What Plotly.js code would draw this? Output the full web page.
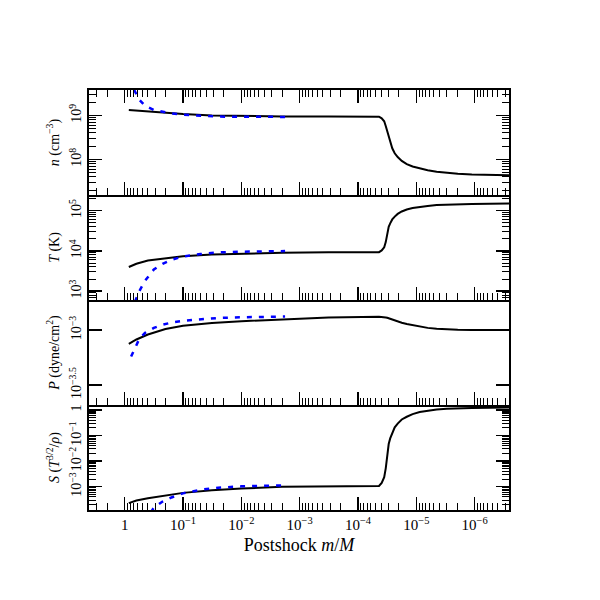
<!DOCTYPE html>
<html><head><meta charset="utf-8">
<script src="https://cdn.plot.ly/plotly-3.0.1.min.js"></script>
<style>html,body{margin:0;padding:0;background:#fff}#chart{width:600px;height:600px}</style>
</head><body><div id="chart"></div>
<script>
// ---- data ----
const massBlack = [0.85, 0.63, 0.40, 0.20, 0.10, 0.032, 0.010, 0.0020, 3.2e-4,
  4.37e-5, 3.93e-5, 3.56e-5, 3.35e-5, 3.16e-5, 2.98e-5, 2.81e-5, 2.59e-5, 2.35e-5, 2.09e-5, 1.78e-5,
  1.46e-5, 1.16e-5, 8.77e-6, 6.40e-6, 4.49e-6, 3.02e-6, 1.95e-6, 1.12e-6, 5.53e-7, 2.51e-7];
const nBlack = [1.334e9, 1.288e9, 1.219e9, 1.135e9, 1.076e9, 1.0e9, 9.66e8, 9.51e8, 9.44e8,
  9.40e8, 8.61e8, 7.38e8, 5.77e8, 4.38e8, 3.03e8, 2.30e8, 1.79e8, 1.38e8, 1.13e8, 9.27e7,
  7.83e7, 6.92e7, 6.22e7, 5.66e7, 5.25e7, 4.93e7, 4.71e7, 4.53e7, 4.42e7, 4.37e7];
const TBlack = [3980, 4790, 5750, 6610, 7330, 8130, 8610, 9020, 9230,
  9330, 10280, 12330, 16560, 27670, 39720, 48310, 60670, 71290, 83180, 95500,
  106900, 116100, 123900, 130900, 138000, 141900, 145200, 147600, 149600, 151400];
const PBlack = [7.50e-4, 8.22e-4, 9.12e-4, 1.023e-3, 1.096e-3, 1.161e-3, 1.202e-3, 1.245e-3, 1.303e-3,
  1.318e-3, 1.318e-3, 1.315e-3, 1.303e-3, 1.294e-3, 1.279e-3, 1.262e-3, 1.245e-3, 1.222e-3, 1.197e-3, 1.164e-3,
  1.135e-3, 1.107e-3, 1.072e-3, 1.047e-3, 1.028e-3, 1.014e-3, 1.007e-3, 1.002e-3, 1.000e-3, 1.000e-3];
const SBlack = [2.29e-4, 2.88e-4, 3.55e-4, 4.62e-4, 5.75e-4, 7.24e-4, 8.51e-4, 9.89e-4, 1.047e-3,
  1.076e-3, 1.413e-3, 2.344e-3, 5.248e-3, 0.02089, 0.04677, 0.07762, 0.1318, 0.2089, 0.2951, 0.4266,
  0.5433, 0.6918, 0.8279, 0.9397, 1.035, 1.107, 1.161, 1.202, 1.225, 1.245];

const massBlue = [0.776, 0.676, 0.562, 0.447, 0.316, 0.224, 0.158, 0.100, 0.0501, 0.0251, 0.0100, 0.00398, 0.00178];
const nBlue = [7.08e9, 3.63e9, 2.29e9, 1.66e9, 1.33e9, 1.20e9, 1.11e9, 1.04e9, 9.77e8, 9.44e8, 9.33e8, 9.29e8, 9.29e8];
const TBlue = [282, 525, 1000, 1820, 3467, 4786, 6026, 7244, 8375, 9162, 9550, 9772, 9886];
const PBlue = [5.75e-4, 6.76e-4, 8.32e-4, 9.44e-4, 1.047e-3, 1.117e-3, 1.169e-3, 1.216e-3, 1.259e-3, 1.288e-3, 1.306e-3, 1.318e-3, 1.327e-3];
const SBlue = [6.3e-7, 3.3e-6, 1.41e-5, 4.68e-5, 1.51e-4, 2.63e-4, 3.80e-4, 5.50e-4, 7.59e-4, 9.12e-4, 1.035e-3, 1.091e-3, 1.117e-3];

const xTickVals = [1, 1e-1, 1e-2, 1e-3, 1e-4, 1e-5, 1e-6];
const xTickText = ['1', '10<sup>−1</sup>', '10<sup>−2</sup>', '10<sup>−3</sup>', '10<sup>−4</sup>', '10<sup>−5</sup>', '10<sup>−6</sup>'];
const nTickVals = [1e8, 1e9];
const nTickText = ['10<sup>8</sup>', '10<sup>9</sup>'];
const TTickVals = [1e3, 1e4, 1e5];
const TTickText = ['10<sup>3</sup>', '10<sup>4</sup>', '10<sup>5</sup>'];
const PTickVals = [Math.pow(10, -3.5), 1e-3];
const PTickText = ['10<sup>−3.5</sup>', '10<sup>−3</sup>'];
const STickVals = [1e-3, 1e-2, 1e-1, 1];
const STickText = ['10<sup>−3</sup>', '10<sup>−2</sup>', '10<sup>−1</sup>', '1'];

const xTitle = 'Postshock <i>m</i>/<i>M</i>';
const nTitle = '<i>n</i> (cm<sup>−3</sup>)';
const TTitle = '<i>T</i> (K)';
const PTitle = '<i>P</i> (dyne/cm<sup>2</sup>)';
const STitle = '<i>S</i> (<i>T</i><sup>3/2</sup>/<i>ρ</i>)';

// ---- styling ----
const FONT = 'Liberation Serif, DejaVu Serif, serif';
function minorTicks(lo, hi) {
  const v = [];
  for (let k = lo; k <= hi; k++) for (let d = 2; d <= 9; d++) v.push(d * Math.pow(10, k));
  return v;
}
const xRange = [0.612, -6.588];

function xAxis(anchor, showLabels, mirror) {
  return {
    type: 'log', range: xRange, autorange: false, anchor: anchor, domain: [0, 1],
    showline: true, linewidth: 2, linecolor: '#000', mirror: mirror,
    ticks: 'inside', ticklen: 13, tickwidth: 1.5, tickcolor: '#000',
    tickmode: 'array', tickvals: xTickVals, ticktext: xTickText,
    showticklabels: showLabels, tickfont: {family: FONT, size: 15, color: '#000'},
    minor: {tickmode: 'array', tickvals: minorTicks(-7, 0), ticks: 'inside', ticklen: 7, tickwidth: 1, tickcolor: '#000', showgrid: false},
    showgrid: false, zeroline: false
  };
}
function yAxis(domain, range, vals, text, title, minor) {
  const ax = {
    type: 'log', range: range, autorange: false, domain: domain,
    showline: true, linewidth: 2, linecolor: '#000', mirror: 'ticks',
    ticks: 'inside', ticklen: 13, tickwidth: 1.5, tickcolor: '#000',
    tickmode: 'array', tickvals: vals, ticktext: text, tickangle: -90,
    tickfont: {family: FONT, size: 14, color: '#000'},
    title: {text: title, font: {family: FONT, size: 14, color: '#000'}, standoff: 4},
    showgrid: false, zeroline: false
  };
  if (minor) ax.minor = {tickmode: 'array', tickvals: minor, ticks: 'inside', ticklen: 7, tickwidth: 1, tickcolor: '#000', showgrid: false};
  return ax;
}

const blackLine = {color: '#000', width: 2};
const blueLine = {color: '#0000ff', width: 2.5, dash: '5px,7px'};

const traces = [
  {x: massBlack, y: nBlack, xaxis: 'x', yaxis: 'y', mode: 'lines', line: blackLine},
  {x: massBlue, y: nBlue, xaxis: 'x', yaxis: 'y', mode: 'lines', line: blueLine},
  {x: massBlack, y: TBlack, xaxis: 'x2', yaxis: 'y2', mode: 'lines', line: blackLine},
  {x: massBlue, y: TBlue, xaxis: 'x2', yaxis: 'y2', mode: 'lines', line: blueLine},
  {x: massBlack, y: PBlack, xaxis: 'x3', yaxis: 'y3', mode: 'lines', line: blackLine},
  {x: massBlue, y: PBlue, xaxis: 'x3', yaxis: 'y3', mode: 'lines', line: blueLine},
  {x: massBlack, y: SBlack, xaxis: 'x4', yaxis: 'y4', mode: 'lines', line: blackLine},
  {x: massBlue, y: SBlue, xaxis: 'x4', yaxis: 'y4', mode: 'lines', line: blueLine}
];

const xa4 = xAxis('y4', true, false);
xa4.title = {text: xTitle, font: {family: FONT, size: 18, color: '#000'}, standoff: 6};

const layout = {
  width: 600, height: 600,
  margin: {l: 89, r: 91, t: 90, b: 90},
  paper_bgcolor: '#fff', plot_bgcolor: '#fff',
  showlegend: false, hovermode: false,
  font: {family: FONT, color: '#000'},
  xaxis: xAxis('y', false, 'ticks'),
  xaxis2: xAxis('y2', false, false),
  xaxis3: xAxis('y3', false, false),
  xaxis4: xa4,
  yaxis: yAxis([0.75, 1], [7.19, 9.58], nTickVals, nTickText, nTitle, minorTicks(7, 9)),
  yaxis2: yAxis([0.5, 0.75], [2.78, 5.39], TTickVals, TTickText, TTitle, minorTicks(2, 5)),
  yaxis3: yAxis([0.25, 0.5], [-3.68, -2.727], PTickVals, PTickText, PTitle, null),
  yaxis4: yAxis([0, 0.25], [-3.91, 0.195], STickVals, STickText, STitle, minorTicks(-4, 0))
};

Plotly.newPlot('chart', traces, layout, {staticPlot: true, displayModeBar: false});
</script>
</body></html>
